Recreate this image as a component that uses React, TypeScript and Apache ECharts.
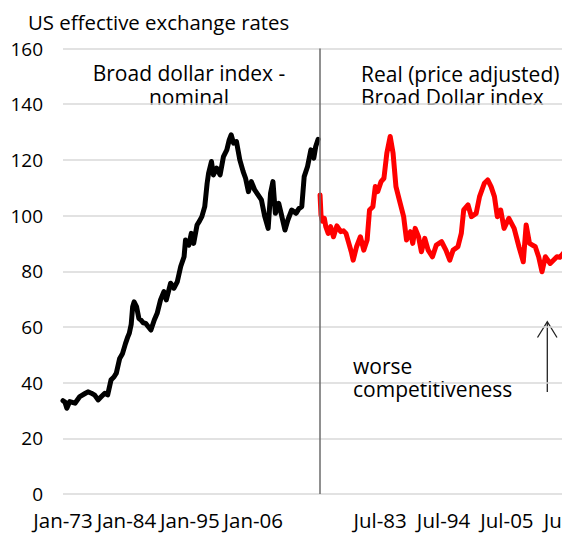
import React, { useEffect, useRef } from "react";
import * as echarts from "echarts";

// x axis: months since Jan-73 (left block), right block starts at REAL_OFFSET
const xTickLabels = ["Jan-73", "Jan-84", "Jan-95", "Jan-06", "", "Jul-83", "Jul-94", "Jul-05", "Jul-16"];
const TICK_STEP = 132;
const REAL_OFFSET = 534;
const DIVIDER_X = 533.5;
const X_MAX = 1080;

// Broad dollar index - nominal (months since Jan-73, value)
const nominalMonths = [0, 4, 8, 14, 25, 35, 45, 52, 59, 66, 73, 80, 87, 93, 100, 106, 111, 118, 124, 130, 135, 138, 142, 145, 148, 153, 158, 162, 167, 172, 178, 183, 190, 196, 203, 210, 215, 220, 224, 231, 238, 245, 252, 255, 262, 267, 272, 279, 284, 289, 295, 300, 303, 309, 313, 320, 327, 334, 341, 346, 350, 355, 361, 368, 375, 380, 386, 392, 399, 406, 413, 420, 427, 432, 437, 442, 449, 454, 462, 468, 476, 485, 491, 497, 502, 509, 516, 522, 526, 531];
const nominalValues = [33.5, 33, 30.8, 33.2, 32.6, 35, 36, 36.7, 36.2, 35.5, 33.8, 35, 36.2, 35.6, 41, 42, 43.4, 48.7, 50.5, 54, 56.5, 57.7, 61, 67.3, 69, 67.3, 63, 62.5, 61.5, 61.3, 60, 58.9, 62.5, 64.9, 69.7, 72.7, 69.7, 73, 75.7, 73.9, 76.3, 81.7, 85.2, 91.2, 89.4, 93.6, 90, 96.6, 98, 99.6, 103.2, 111.6, 115.2, 119.4, 114.6, 117, 114.6, 121.2, 123.6, 127.2, 129, 126, 126.6, 120, 115.8, 113.4, 108.6, 112.2, 109.2, 107.4, 105.6, 99.6, 95.4, 108, 112.2, 100.8, 104.4, 100.8, 94.8, 98.4, 102, 100.8, 102.5, 103.2, 114, 117.6, 123.6, 120.6, 124.8, 127.4];

// Real (price adjusted) Broad Dollar index (months since Jan-73, value)
const realMonths = [1, 3, 6, 10, 13, 18, 23, 29, 36, 44, 50, 55, 61, 66, 70, 77, 85, 92, 99, 104, 111, 116, 121, 128, 134, 140, 147, 153, 159, 166, 175, 181, 189, 194, 199, 206, 212, 219, 226, 235, 243, 254, 263, 271, 278, 288, 295, 300, 309, 316, 326, 333, 343, 350, 357, 364, 370, 377, 384, 394, 405, 415, 424, 430, 437, 449, 456, 463, 470, 480, 494, 500, 510];
const realValues = [107.4, 100.2, 98, 99, 96, 93.6, 96, 92.4, 96.3, 94.2, 94.5, 93.6, 90, 87, 84, 88.8, 92.4, 87.6, 91.2, 102, 103.2, 110.4, 108.6, 112.2, 113.4, 122.4, 128.4, 122.4, 110.4, 105.6, 99.6, 91.2, 94.2, 90, 95.4, 92.4, 87, 91.8, 87.6, 85.2, 89.4, 90.6, 87.6, 84, 87.6, 88.8, 93.6, 102, 103.8, 99.6, 100.8, 106.8, 111.6, 112.8, 110.4, 106.8, 99.6, 102, 95.4, 99, 95.4, 88.8, 83.4, 96.6, 90, 88.8, 85.2, 79.8, 85.2, 82.8, 85.2, 85, 87];

const FONT = "'Open Sans', 'Noto Sans', sans-serif";

export default function App() {
  const ref = useRef<HTMLDivElement>(null);
  useEffect(() => {
    document.body.style.margin = "0";
    if (!ref.current) return;
    const chart = echarts.init(ref.current, undefined, { renderer: "svg" });
    const nominalData = nominalMonths.map((m, i) => [m, nominalValues[i]]);
    const realData = realMonths.map((m, i) => [REAL_OFFSET + m, realValues[i]]);
    const txt = (text: string, x: number, y: number, align: string, size = 21) => ({
      type: "text",
      x,
      y,
      style: { text, fontSize: size, lineHeight: 23.5, fontFamily: FONT, fill: "#000", align, verticalAlign: "middle" },
    });
    chart.setOption({
      animation: false,
      backgroundColor: "#ffffff",
      textStyle: { fontFamily: FONT },
      grid: { left: 63, top: 48.5, right: 13.2, bottom: 39 },
      xAxis: {
        type: "value",
        min: 0,
        max: X_MAX,
        interval: TICK_STEP,
        axisLine: { show: false },
        axisTick: { show: false },
        splitLine: { show: false },
        axisLabel: {
          margin: 15,
          color: "#000",
          fontSize: 20.5,
          fontFamily: FONT,
          showMaxLabel: false,
          formatter: (v: number) => {
            const idx = Math.round(v / TICK_STEP);
            return Math.abs(v - idx * TICK_STEP) < 0.5 ? xTickLabels[idx] ?? "" : "";
          },
        },
      },
      yAxis: {
        type: "value",
        min: 0,
        max: 160,
        interval: 20,
        axisLine: { show: false },
        axisTick: { show: false },
        splitLine: { lineStyle: { color: "#d9d9d9", width: 1.5 } },
        axisLabel: { margin: 20, color: "#000", fontSize: 19, fontFamily: FONT },
      },
      series: [
        {
          name: "Broad dollar index - nominal",
          type: "line",
          data: nominalData,
          symbol: "none",
          lineStyle: { color: "#000000", width: 5, join: "round", cap: "round" },
          markLine: {
            silent: true,
            symbol: "none",
            label: { show: false },
            lineStyle: { color: "#6b6b6b", width: 1.5, type: "solid" },
            data: [{ xAxis: DIVIDER_X }],
          },
        },
        {
          name: "Real (price adjusted) Broad Dollar index",
          type: "line",
          data: realData,
          symbol: "none",
          lineStyle: { color: "#ff0000", width: 5, join: "round", cap: "round" },
        },
      ],
      graphic: [
        txt("US effective exchange rates", 28, 21.8, "left", 20.4),
        txt("Broad dollar index -\nnominal", 189, 84.8, "center"),
        txt("Real (price adjusted)\nBroad Dollar index", 361, 85.6, "left"),
        txt("worse\ncompetitiveness", 353, 377.6, "left"),
        { type: "line", shape: { x1: 547.3, y1: 392, x2: 547.3, y2: 322 }, style: { stroke: "#222", lineWidth: 1.3 } },
        { type: "polyline", shape: { points: [[537.5, 337.5], [547.3, 321.7], [557, 337.5]] }, style: { stroke: "#222", lineWidth: 1.3, fill: "none" } },
      ],
    });
    return () => chart.dispose();
  }, []);
  return (
    <div style={{ width: 562, height: 533, overflow: "hidden", position: "relative" }}>
      <div ref={ref} style={{ width: 600, height: 533 }} />
    </div>
  );
}
